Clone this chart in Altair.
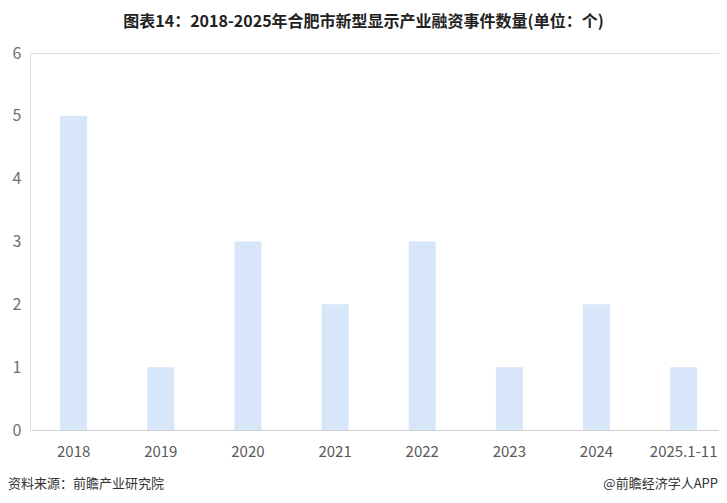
import altair as alt
import pandas as pd

categories = ["2018", "2019", "2020", "2021", "2022", "2023", "2024", "2025.1-11"]
values = [5, 1, 3, 2, 3, 1, 2, 1]

title_text = "图表14：2018-2025年合肥市新型显示产业融资事件数量(单位：个)"
source_text = "资料来源：前瞻产业研究院"
brand_text = "@前瞻经济学人APP"

df = pd.DataFrame({"year": categories, "count": values})
FONT = "Noto Sans CJK SC"

bars = alt.Chart(df).mark_bar(color="#d7e6f8", size=27).encode(
    x=alt.X("year:N", sort=categories, title=None,
            scale=alt.Scale(paddingInner=0.69, paddingOuter=0.298, align=0.58),
            axis=alt.Axis(labelAngle=0, labelFontSize=15, labelColor="#595959",
                          labelFont=FONT, ticks=False, domainColor="#d0d0d0",
                          labelPadding=14)),
    y=alt.Y("count:Q", title=None, scale=alt.Scale(domain=[0, 6]),
            axis=alt.Axis(values=[0, 1, 2, 3, 4, 5, 6], grid=False, domain=False,
                          ticks=False, labelFontSize=16, labelColor="#707070",
                          labelFont=FONT, labelPadding=9)),
)

src = alt.Chart(pd.DataFrame({"t": [source_text]})).mark_text(
    align="left", baseline="middle", fontSize=13, color="#333333", font=FONT
).encode(text="t:N", x=alt.value(-22), y=alt.value(54 + 377))

brand = alt.Chart(pd.DataFrame({"t": [brand_text]})).mark_text(
    align="right", baseline="middle", fontSize=13, color="#333333", font=FONT
).encode(text="t:N", x=alt.value(688), y=alt.value(54 + 377))

chart = alt.layer(bars, src, brand).properties(
    width=689, height=377,
    padding={"left": 22, "top": 45, "right": 0, "bottom": 65},
    autosize=alt.AutoSizeParams(type="none"),
    title=alt.TitleParams(title_text, anchor="middle", fontSize=16, fontWeight="bold",
                          font=FONT, color="#222222", offset=15, dx=-11),
).configure_view(stroke=None).configure(background="white")

chart.save("out.html", embed_options={"renderer": "svg", "actions": False})
